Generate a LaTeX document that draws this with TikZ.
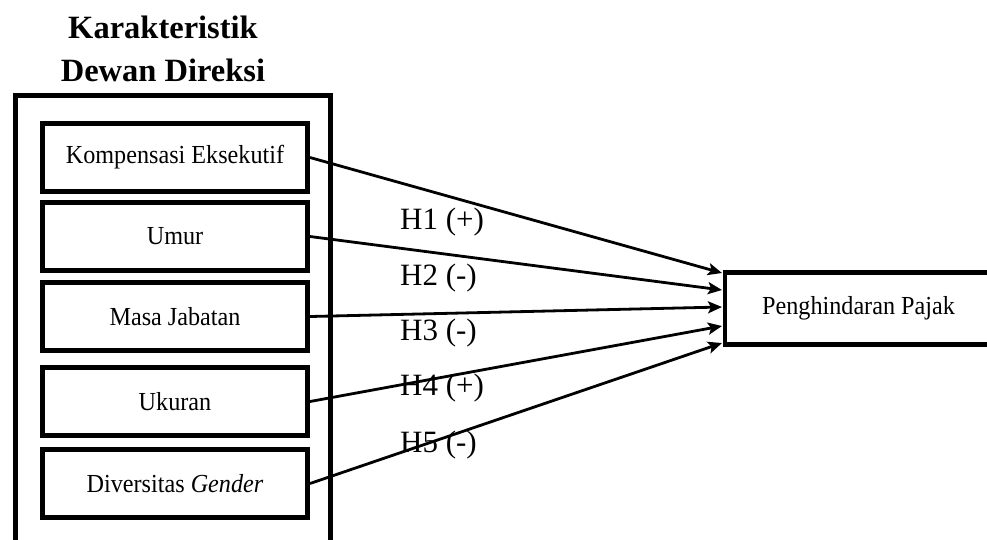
\documentclass[tikz,border=0pt]{standalone}
\usepackage{fontspec}
\setmainfont{Liberation Serif}
\newfontfamily\boxfont[FakeStretch=0.93]{Liberation Serif}
\usetikzlibrary{arrows.meta,calc}
\begin{document}
\begin{tikzpicture}[x=1pt,y=-1pt,
  varbox/.style={draw,line width=5pt,minimum width=265pt,minimum height=68pt,inner sep=0pt,
    font=\boxfont\fontsize{26}{30}\selectfont},
  grpbox/.style={draw,line width=5pt,inner sep=0pt},
  hyp/.style={-{Stealth[length=14pt,width=12pt,inset=3pt]},line width=2.8pt},
  hlabel/.style={anchor=west,inner sep=0pt,font=\fontsize{31}{36}\selectfont},
  title/.style={align=center,inner sep=0pt,font=\bfseries\fontsize{32.5}{43}\selectfont}]
\useasboundingbox (0,0) rectangle (987,539);
% title
\node[title] (ttl) at (163,49) {Karakteristik\\Dewan Direksi};
% group box (bottom runs off the picture)
\node[grpbox,minimum width=315pt,minimum height=470pt] (grp) at (173,330.5) {};
% variable boxes
\node[varbox] (v1) at (175,157.5) {Kompensasi Eksekutif};
\node[varbox] (v2) at (175,236.5) {Umur};
\node[varbox] (v3) at (175,316.5) {Masa Jabatan};
\node[varbox] (v4) at (175,401.5) {Ukuran};
\node[varbox] (v5) at (175,483.5) {Diversitas \textit{Gender}};
% dependent variable box (right side runs off the picture)
\node[draw,line width=4.5pt,minimum width=267pt,minimum height=72pt,inner sep=0pt,
  font=\boxfont\fontsize{26}{30}\selectfont] (tgt) at (858.5,308.5) {Penghindaran Pajak};
% arrow end points on the left side of the dependent box
\coordinate (e1) at (722,273);
\coordinate (e2) at (722,290);
\coordinate (e3) at (722,307);
\coordinate (e4) at (722,326);
\coordinate (e5) at (722,343);
% hypothesis labels
\node[hlabel] (h1) at (400,222) {H1 (+)};
\node[hlabel] (h2) at (400,278) {H2 (-)};
\node[hlabel] (h3) at (400,333) {H3 (-)};
\node[hlabel] (h4) at (400,388) {H4 (+)};
\node[hlabel] (h5) at (400,445) {H5 (-)};
% arrows
\draw[hyp] (v1.east) -- (e1);
\draw[hyp] (v2.east) -- (e2);
\draw[hyp] (v3.east) -- (e3);
\draw[hyp] (v4.east) -- (e4);
\draw[hyp] (v5.east) -- (e5);
\end{tikzpicture}
\end{document}
